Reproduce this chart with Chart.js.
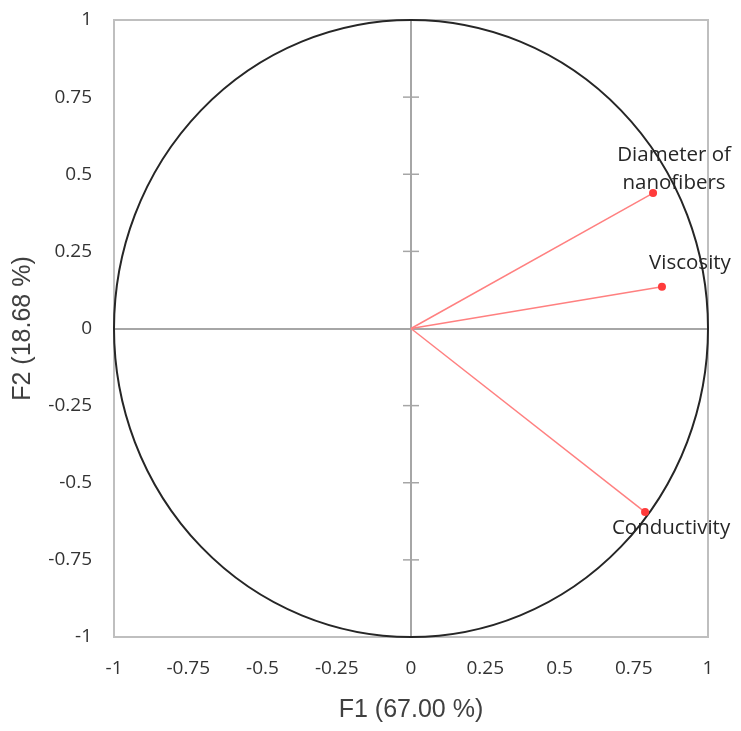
<!DOCTYPE html>
<html>
<head>
<meta charset="utf-8">
<script src="https://cdn.jsdelivr.net/npm/chart.js@4.4.1/dist/chart.umd.min.js"></script>
<style>
  body { margin: 0; background: #fff; }
</style>
</head>
<body>
<canvas id="circleChart" width="741" height="731"></canvas>
<script>
const variableNames = [['Diameter of', 'nanofibers'], ['Viscosity'], ['Conductivity']];
const f1Values = [0.815, 0.845, 0.788];
const f2Values = [0.439, 0.135, -0.595];
const axisTicks = [-1, -0.75, -0.5, -0.25, 0, 0.25, 0.5, 0.75, 1];
const xTitle = 'F1 (67.00 %)';
const yTitle = 'F2 (18.68 %)';

const vectorColor = '#ff8080';
const pointColor = '#ff3b3b';
const tickColor = '#333333';

// un dataset por variable: recta desde el origen hasta la variable
const datasets = variableNames.map((name, i) => ({
  label: name.join(' '),
  data: [{ x: 0, y: 0 }, { x: f1Values[i], y: f2Values[i] }],
  showLine: true,
  borderColor: vectorColor,
  borderWidth: 1.5,
  pointRadius: [0, 4],
  pointBackgroundColor: pointColor,
  pointBorderWidth: 0,
}));

const circlePlugin = {
  id: 'circlePlugin',
  beforeDatasetsDraw(chart) {
    const { ctx, chartArea: a, scales: { x, y } } = chart;
    ctx.save();
    ctx.strokeStyle = '#bfbfbf';
    ctx.lineWidth = 2;
    ctx.strokeRect(a.left, a.top, a.width, a.height);

    const x0 = x.getPixelForValue(0);
    const y0 = y.getPixelForValue(0);
    ctx.strokeStyle = '#a6a6a6';
    ctx.lineWidth = 1.5;
    axisTicks.forEach((v) => {
      if (v === 0 || Math.abs(v) === 1) return;
      const py = y.getPixelForValue(v);
      ctx.beginPath();
      ctx.moveTo(x0 - 8, py);
      ctx.lineTo(x0 + 8, py);
      ctx.stroke();
    });

    // circulo de correlaciones (radio 1 en las dos escalas)
    const rx = x.getPixelForValue(1) - x0;
    const ry = y0 - y.getPixelForValue(1);
    ctx.strokeStyle = '#262626';
    ctx.lineWidth = 2;
    ctx.beginPath();
    ctx.ellipse(x0, y0, rx, ry, 0, 0, Math.PI * 2);
    ctx.stroke();
    ctx.restore();
  },
  afterDatasetsDraw(chart, args, opts) {
    const { ctx, scales: { x, y } } = chart;
    ctx.save();
    ctx.font = '20.5px "Open Sans"';
    ctx.fillStyle = '#262626';
    ctx.textAlign = 'center';
    ctx.textBaseline = 'middle';
    variableNames.forEach((lines, i) => {
      const px = x.getPixelForValue(f1Values[i]);
      const py = y.getPixelForValue(f2Values[i]);
      const place = opts.placement[i];
      lines.forEach((line, j) => {
        const ly = place.below
          ? py + place.dy + j * 28
          : py - place.dy - (lines.length - 1 - j) * 28;
        ctx.fillText(line, px + place.dx, ly);
      });
    });
    ctx.restore();
  },
};

new Chart('circleChart', {
  type: 'scatter',
  data: { datasets },
  plugins: [circlePlugin],
  options: {
    responsive: false,
    animation: false,
    layout: { padding: { top: 20, right: 33, left: 0, bottom: 0 } },
    plugins: {
      legend: { display: false },
      tooltip: { enabled: false },
      circlePlugin: {
        placement: [
          { dx: 21, dy: 10, below: false },
          { dx: 28, dy: 24, below: false },
          { dx: 26, dy: 16, below: true },
        ],
      },
    },
    scales: {
      x: {
        type: 'linear',
        min: -1,
        max: 1,
        afterBuildTicks: (s) => { s.ticks = axisTicks.map((v) => ({ value: v })); },
        afterFit: (s) => { s.height = 94; s.paddingLeft = 0; s.paddingRight = 0; },
        grid: {
          drawTicks: false,
          color: (c) => (c.tick && c.tick.value === 0 ? '#a6a6a6' : 'transparent'),
          lineWidth: 2,
        },
        border: { display: false },
        ticks: {
          padding: 20,
          color: tickColor,
          font: { family: 'Open Sans', size: 19 },
          callback: (v) => String(v),
        },
        title: {
          display: true,
          text: xTitle,
          color: '#404040',
          font: { family: 'Liberation Sans', size: 25 },
          padding: { top: 0, bottom: 6 },
        },
      },
      y: {
        type: 'linear',
        min: -1,
        max: 1,
        afterBuildTicks: (s) => { s.ticks = axisTicks.map((v) => ({ value: v })); },
        afterFit: (s) => { s.width = 114; s.paddingTop = 0; s.paddingBottom = 0; },
        grid: {
          drawTicks: false,
          color: (c) => (c.tick && c.tick.value === 0 ? '#a6a6a6' : 'transparent'),
          lineWidth: 2,
        },
        border: { display: false },
        ticks: {
          padding: 22,
          color: tickColor,
          font: { family: 'Open Sans', size: 19 },
          callback: (v) => String(v),
        },
        title: {
          display: true,
          text: yTitle,
          color: '#404040',
          font: { family: 'Liberation Sans', size: 25 },
          padding: { top: 8, bottom: 0 },
        },
      },
    },
  },
});
</script>
</body>
</html>
